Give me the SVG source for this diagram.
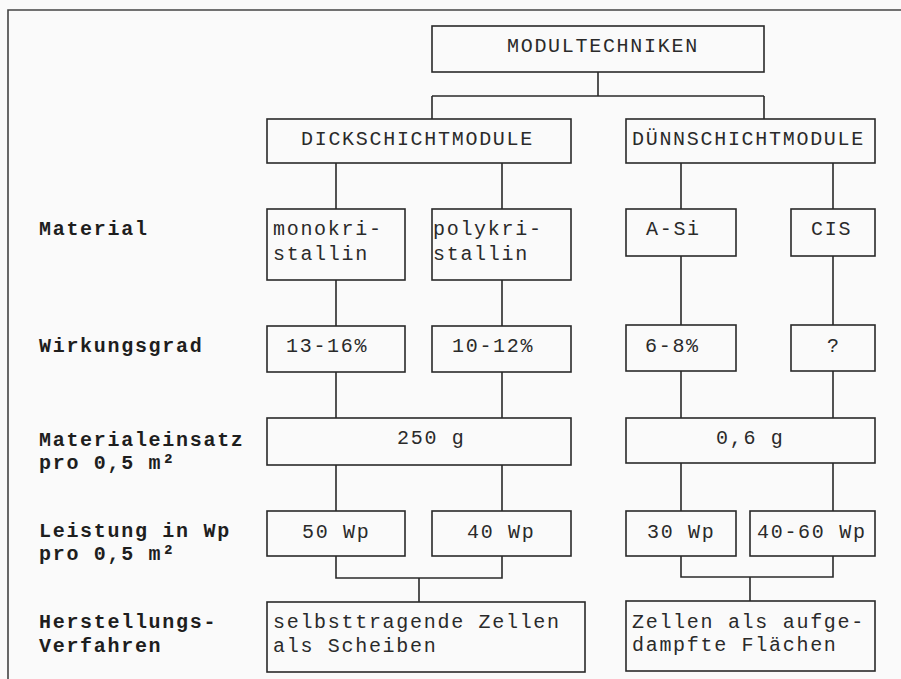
<svg xmlns="http://www.w3.org/2000/svg" width="901" height="679" viewBox="0 0 901 679">
<style>
.bg{fill:#fafafa}
.box{fill:none;stroke:#2a2a2a;stroke-width:1.6}
.con{fill:none;stroke:#2a2a2a;stroke-width:1.6}
.frame{fill:none;stroke:#444;stroke-width:1.6}
.t{font-family:"Liberation Mono","Courier New",monospace;font-size:20px;letter-spacing:1.7px;fill:#2a2a2a}
.lb{font-family:"Liberation Mono","Courier New",monospace;font-size:20px;letter-spacing:1.7px;font-weight:bold;fill:#1e1e1e}
</style>
<rect class="bg" x="0" y="0" width="901" height="679"/>
<path class="frame" d="M8,679 V10 H901"/>

<g id="labels">
<text class="lb" x="39" y="235">Material</text>
<text class="lb" x="39" y="352">Wirkungsgrad</text>
<text class="lb" x="39" y="446">Materialeinsatz</text>
<text class="lb" x="39" y="469">pro 0,5 m²</text>
<text class="lb" x="39" y="537">Leistung in Wp</text>
<text class="lb" x="39" y="560">pro 0,5 m²</text>
<text class="lb" x="39" y="628">Herstellungs-</text>
<text class="lb" x="39" y="652">Verfahren</text>
</g>

<g id="connectors">
<path class="con" d="M598,72 V96 M432,96 H764 M432,96 V119 M764,96 V119"/>
<path class="con" d="M336,163 V209 M502,163 V209 M681,163 V209 M833,163 V209"/>
<path class="con" d="M336,280 V326 M502,280 V326 M681,256 V325 M833,256 V325"/>
<path class="con" d="M336,372 V418 M502,372 V418 M681,371 V418 M833,371 V418"/>
<path class="con" d="M336,465 V511 M502,465 V511 M681,463 V511 M833,463 V511"/>
<path class="con" d="M336,556 V578 H502 V556 M419,578 V602"/>
<path class="con" d="M681,556 V577 H833 V556 M750,577 V601"/>
</g>

<g id="n-modultechniken">
<rect class="box" x="432" y="26" width="332" height="46"/>
<text class="t" x="507" y="52">MODULTECHNIKEN</text>
</g>
<g id="n-dickschicht">
<rect class="box" x="267" y="119" width="304" height="44"/>
<text class="t" x="301" y="145">DICKSCHICHTMODULE</text>
</g>
<g id="n-duennschicht">
<rect class="box" x="626" y="119" width="249" height="44"/>
<text class="t" x="632" y="145">DÜNNSCHICHTMODULE</text>
</g>

<g id="n-mono">
<rect class="box" x="267" y="209" width="138" height="71"/>
<text class="t" x="273" y="235">monokri-</text>
<text class="t" x="273" y="260">stallin</text>
</g>
<g id="n-poly">
<rect class="box" x="432" y="209" width="139" height="71"/>
<text class="t" x="433" y="235">polykri-</text>
<text class="t" x="433" y="260">stallin</text>
</g>
<g id="n-asi">
<rect class="box" x="626" y="209" width="110" height="47"/>
<text class="t" x="646" y="235">A-Si</text>
</g>
<g id="n-cis">
<rect class="box" x="791" y="209" width="84" height="47"/>
<text class="t" x="811" y="235">CIS</text>
</g>

<g id="n-w1">
<rect class="box" x="267" y="326" width="138" height="46"/>
<text class="t" x="286" y="352">13-16%</text>
</g>
<g id="n-w2">
<rect class="box" x="432" y="326" width="139" height="46"/>
<text class="t" x="452" y="352">10-12%</text>
</g>
<g id="n-w3">
<rect class="box" x="626" y="325" width="110" height="46"/>
<text class="t" x="645" y="352">6-8%</text>
</g>
<g id="n-w4">
<rect class="box" x="791" y="325" width="84" height="46"/>
<text class="t" x="827" y="352">?</text>
</g>

<g id="n-m1">
<rect class="box" x="267" y="418" width="304" height="47"/>
<text class="t" x="397" y="444">250 g</text>
</g>
<g id="n-m2">
<rect class="box" x="626" y="418" width="249" height="45"/>
<text class="t" x="716" y="444">0,6 g</text>
</g>

<g id="n-l1">
<rect class="box" x="267" y="511" width="138" height="45"/>
<text class="t" x="302" y="538">50 Wp</text>
</g>
<g id="n-l2">
<rect class="box" x="432" y="511" width="139" height="45"/>
<text class="t" x="467" y="538">40 Wp</text>
</g>
<g id="n-l3">
<rect class="box" x="626" y="511" width="110" height="45"/>
<text class="t" x="647" y="538">30 Wp</text>
</g>
<g id="n-l4">
<rect class="box" x="750" y="511" width="125" height="45"/>
<text class="t" x="757" y="538">40-60 Wp</text>
</g>

<g id="n-h1">
<rect class="box" x="267" y="602" width="318" height="70"/>
<text class="t" x="273" y="628">selbsttragende Zellen</text>
<text class="t" x="273" y="652">als Scheiben</text>
</g>
<g id="n-h2">
<rect class="box" x="626" y="601" width="249" height="70"/>
<text class="t" x="632" y="628">Zellen als aufge-</text>
<text class="t" x="632" y="651">dampfte Flächen</text>
</g>
</svg>
